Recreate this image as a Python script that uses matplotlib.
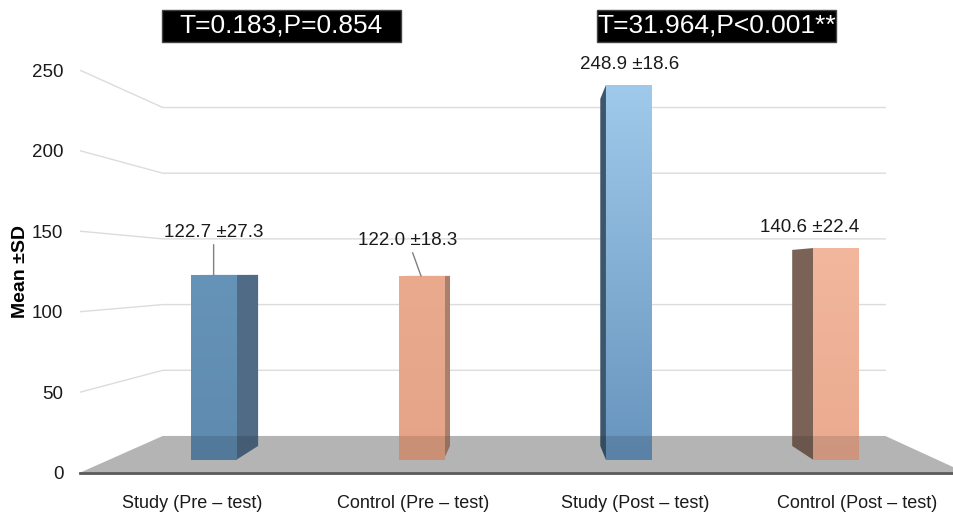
import numpy as np
import matplotlib
matplotlib.use('Agg')
import matplotlib.pyplot as plt
from matplotlib.patches import Polygon, Rectangle
from matplotlib.colors import LinearSegmentedColormap

groups = ['Study (Pre – test)', 'Control (Pre – test)', 'Study (Post – test)', 'Control (Post – test)']
means = [122.7, 122.0, 248.9, 140.6]
sds = [27.3, 18.3, 18.6, 22.4]
y_ticks = [0, 50, 100, 150, 200, 250]
tests = ['T=0.183,P=0.854', 'T=31.964,P<0.001**']

# front colour top/bottom, side colour
front_top = ['#6693b8', '#e9aa8e', '#a0caeb', '#f2b79d']
front_bot = ['#5e8aaf', '#e5a487', '#6794bd', '#eaaa8f']
side_col = ['#4f6b85', '#a9806e', '#3d566c', '#7a6256']
# label offsets (pixels) from bar top, and whether a leader line is drawn
lab_off = [(0, 43), (-13, 36), (1, 20), (-26, 21)]
leader = [True, True, False, False]

sans = ['Liberation Sans', 'DejaVu Sans']

W, H = 954, 518
fig = plt.figure(figsize=(W / 100, H / 100), dpi=100)
ax = fig.add_axes([80 / W, 0, 874 / W, 1])
# front plane: category i at 192 + 221.6*i px, value v at 472.7 - 1.61*v px from top
x0, x1 = (80 - 192) / 221.6, (954 - 192) / 221.6
ax.set_xlim(x0, x1)
ax.set_ylim((472.7 - 518) / 1.61, 472.7 / 1.61)

# vanishing point and depths of floor back edge / bar faces
VX, VY = (530 - 192) / 221.6, (472.7 - 273) / 1.61
T_FLOOR, T_BAR, T_BACK = 0.184, 0.064, 0.134


def proj(x, y, t):
    return VX + (1 - t) * (x - VX), VY + (1 - t) * (y - VY)


x_right = 3.49

# floor
floor = [proj(x0, 0, 0), proj(x0, 0, T_FLOOR), proj(x_right, 0, T_FLOOR), proj(x_right, 0, 0)]
ax.add_patch(Polygon(floor, closed=True, facecolor='#cdcdcd', edgecolor='none', zorder=1))

# gridlines: slanted from front axis to back wall, then along the wall
for v in y_ticks[1:]:
    a = proj(x0, v, 0)
    b = proj(x0, v, T_FLOOR)
    c = proj(x_right, v, T_FLOOR)
    ax.plot([a[0], b[0], c[0]], [a[1], b[1], c[1]], color='#dcdcdc', lw=1, zorder=0.5)

# bars
w = 0.217
xs = np.arange(len(means))
bx = [proj(x, 0, T_BAR)[0] for x in xs]
base = proj(0, 0, T_BAR)[1]
tops = [proj(0, m, T_BAR)[1] for m in means]
bars = ax.bar(bx, np.array(tops) - base, width=w * (1 - T_BAR), bottom=base,
              color='none', edgecolor='none', zorder=3)

grad = np.linspace(0, 1, 256).reshape(-1, 1)
for i, (m, bar) in enumerate(zip(means, bars)):
    xl, xr = i - w / 2, i + w / 2
    # visible side face
    xe = xr if xr < VX else xl
    side = [proj(xe, 0, T_BAR), proj(xe, m, T_BAR), proj(xe, m, T_BACK), proj(xe, 0, T_BACK)]
    ax.add_patch(Polygon(side, closed=True, facecolor=side_col[i], edgecolor='none', zorder=2))
    if m < VY:
        top = [proj(xl, m, T_BAR), proj(xr, m, T_BAR), proj(xr, m, T_BACK), proj(xl, m, T_BACK)]
        ax.add_patch(Polygon(top, closed=True, facecolor=front_top[i], edgecolor='none', zorder=2))
    # front face with vertical gradient
    cmap = LinearSegmentedColormap.from_list('f%d' % i, [front_bot[i], front_top[i]])
    bx0, by0 = bar.get_x(), bar.get_y()
    im = ax.imshow(grad, extent=(bx0, bx0 + bar.get_width(), by0, by0 + bar.get_height()),
                   origin='lower', cmap=cmap, aspect='auto', zorder=3)
    im.set_clip_path(bar)

    label = '%.1f ±%.1f' % (m, sds[i])
    props = dict(arrowstyle='-', color='#808080', lw=1, shrinkA=1, shrinkB=0) if leader[i] else None
    ax.annotate(label, xy=(bx[i], tops[i]), xytext=lab_off[i], textcoords='offset pixels',
                ha='center', va='center', fontsize=13.5, family=sans, color='#1a1a1a',
                arrowprops=props, zorder=5)

# darken everything lying on the floor
ax.add_patch(Polygon(floor, closed=True, facecolor='black', alpha=0.12, edgecolor='none', zorder=4))
ax.plot([x0, x_right], [0, 0], color='#595959', lw=2, zorder=4.5, clip_on=False)

ax.set_xlim(x0, x1)
ax.set_ylim((472.7 - 518) / 1.61, 472.7 / 1.61)

for i, g in enumerate(groups):
    ax.text(i, (472.7 - 503) / 1.61, g, ha='center', va='center', fontsize=13,
            family=sans, color='#1a1a1a')

ax.set_yticks(y_ticks)
ax.set_yticklabels([str(t) for t in y_ticks], family=sans, fontsize=13.5, color='#1a1a1a')
ax.tick_params(axis='y', length=0, pad=12)
ax.set_xticks([])
for s in ax.spines.values():
    s.set_visible(False)

fig.text(21 / W, 1 - 272 / H, 'Mean ±SD', rotation=90, ha='center', va='center',
         fontsize=14, fontweight='bold', family=sans)

# test result boxes
for (cx, txt) in zip([281.5, 716.5], tests):
    fig.add_artist(Rectangle(((cx - 119.5) / W, 1 - 42 / H), 239 / W, 32 / H,
                             transform=fig.transFigure, facecolor='black', edgecolor='#444444'))
    fig.text(cx / W, 1 - 26 / H, txt, ha='center', va='center', color='white',
             fontsize=19, family=sans)

fig.savefig('out.png', dpi=100)
